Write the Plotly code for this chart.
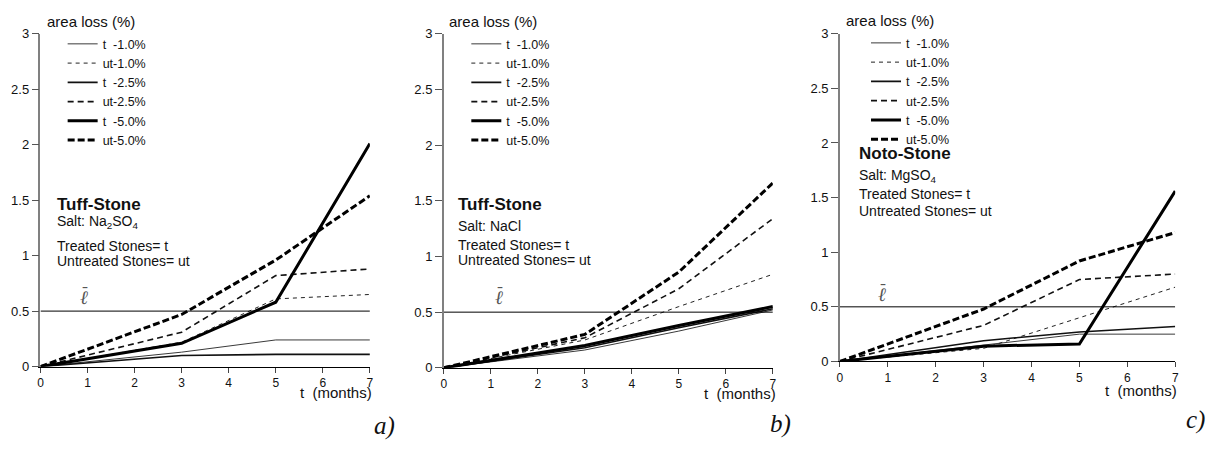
import plotly.graph_objects as go

# ---------------- data ----------------
months = [0, 3, 5, 7]
series_names = ["t\u00a0\u00a0-1.0%", "ut-1.0%", "t\u00a0\u00a0-2.5%", "ut-2.5%", "t\u00a0\u00a0-5.0%", "ut-5.0%"]

# panel a) Tuff-Stone, Na2SO4
a_t10 = [0, 0.13, 0.24, 0.24]
a_ut10 = [0, 0.22, 0.61, 0.65]
a_t25 = [0, 0.10, 0.11, 0.11]
a_ut25 = [0, 0.31, 0.82, 0.88]
a_t50 = [0, 0.21, 0.58, 2.01]
a_ut50 = [0, 0.47, 0.96, 1.54]

# panel b) Tuff-Stone, NaCl
b_t10 = [0, 0.16, 0.33, 0.52]
b_ut10 = [0, 0.25, 0.55, 0.84]
b_t25 = [0, 0.18, 0.36, 0.53]
b_ut25 = [0, 0.27, 0.71, 1.34]
b_t50 = [0, 0.20, 0.38, 0.55]
b_ut50 = [0, 0.30, 0.86, 1.66]

# panel c) Noto-Stone, MgSO4
c_t10 = [0, 0.15, 0.25, 0.25]
c_ut10 = [0, 0.12, 0.40, 0.68]
c_t25 = [0, 0.19, 0.27, 0.32]
c_ut25 = [0, 0.33, 0.75, 0.80]
c_t50 = [0, 0.14, 0.16, 1.56]
c_ut50 = [0, 0.48, 0.92, 1.18]

limit_x = [0, 7]
limit_y = [0.5, 0.5]

y_ticks = [0, 0.5, 1, 1.5, 2, 2.5, 3]
y_tick_labels = ["0", "0.5", "1", "1.5", "2", "2.5", "3"]
x_ticks = [0, 1, 2, 3, 4, 5, 6, 7]

panels = [
    dict(data=[a_t10, a_ut10, a_t25, a_ut25, a_t50, a_ut50], stone="Tuff-Stone",
         salt="Salt: Na<sub>2</sub>SO<sub>4</sub>", label="a)"),
    dict(data=[b_t10, b_ut10, b_t25, b_ut25, b_t50, b_ut50], stone="Tuff-Stone",
         salt="Salt: NaCl", label="b)"),
    dict(data=[c_t10, c_ut10, c_t25, c_ut25, c_t50, c_ut50], stone="Noto-Stone",
         salt="Salt: MgSO<sub>4</sub>", label="c)"),
]

# ---------------- styles ----------------
styles = [
    dict(width=1, dash="solid", color="#3a3a3a"),
    dict(width=1, dash="4px,4px", color="#222222"),
    dict(width=1.6, dash="solid", color="#111111"),
    dict(width=1.6, dash="6px,4px", color="#111111"),
    dict(width=3, dash="solid", color="#000000"),
    dict(width=3, dash="7px,3px", color="#000000"),
]

W, H = 1218, 449
x_domains = [[37.7 / W, 369 / W], [443.3 / W, 774.3 / W], [841.7 / W, 1179 / W]]
y_domains = [[77 / H, 421.3 / H], [75.7 / H, 421.3 / H], [82.3 / H, 421.3 / H]]
legend_pos = [(60 / W, 1 - 23 / H), (466 / W, 1 - 23 / H), (868 / W, 1 - 22 / H)]
text_left = [0.30, 0.27, 0.35]
text_rows = [[1.46, 1.30, 1.09, 0.95], [1.465, 1.27, 1.10, 0.97], [1.90, 1.70, 1.53, 1.38]]
ell_pos = [(0.92, 0.63), (1.18, 0.64), (0.88, 0.62)]
label_pos = [(384, 433), (782, 431), (1199, 427)]
yaxis_title_pos = [(42, 15), (447, 15), (846, 14)]
xaxis_title_pos = [(373, 399), (779, 400), (1183, 397)]

FONT = "Liberation Sans, Arial, sans-serif"

fig = go.Figure()
annotations = []
layout = {}

for i, p in enumerate(panels):
    sfx = "" if i == 0 else str(i + 1)
    xa, ya = "x" + sfx, "y" + sfx
    lg = "legend" + sfx
    for j, (name, vals) in enumerate(zip(series_names, p["data"])):
        fig.add_trace(go.Scatter(
            x=months, y=vals, mode="lines", name=name,
            line=dict(**styles[j]), xaxis=xa, yaxis=ya, legend=lg,
            cliponaxis=False))
    fig.add_trace(go.Scatter(
        x=limit_x, y=limit_y, mode="lines", showlegend=False,
        line=dict(width=1, color="#000000"), xaxis=xa, yaxis=ya))

    layout["xaxis" + sfx] = dict(
        domain=x_domains[i], range=[0, 7], anchor=ya, tickmode="array",
        tickvals=x_ticks, ticks="outside", ticklen=5, tickcolor="#444",
        showline=True, linecolor="#000", linewidth=1, showgrid=False,
        zeroline=False, tickfont=dict(size=12, color="#111", family=FONT),
        fixedrange=True)
    layout["yaxis" + sfx] = dict(
        domain=y_domains[i], range=[0, 3], anchor=xa, tickmode="array",
        tickvals=y_ticks, ticktext=y_tick_labels, ticks="outside", ticklen=7,
        tickcolor="#555", showline=True, linecolor="#808080", linewidth=1.5,
        showgrid=False, zeroline=False,
        tickfont=dict(size=13, color="#111", family=FONT), fixedrange=True)
    layout[lg] = dict(
        x=legend_pos[i][0], y=legend_pos[i][1], xanchor="left", yanchor="top",
        bgcolor="rgba(0,0,0,0)", font=dict(size=12.5, color="#111", family=FONT),
        traceorder="normal", itemwidth=30, borderwidth=0)

    xr, yr = xa, ya
    annotations.append(dict(text="area loss (%)", xref="paper", yref="paper",
                            x=yaxis_title_pos[i][0] / W, y=1 - yaxis_title_pos[i][1] / H,
                            xanchor="left", yanchor="middle", showarrow=False,
                            font=dict(size=15, color="#111", family=FONT)))
    annotations.append(dict(text="t\u00a0\u00a0(months)", xref="paper", yref="paper",
                            x=xaxis_title_pos[i][0] / W, y=1 - xaxis_title_pos[i][1] / H,
                            xanchor="right", yanchor="middle", showarrow=False,
                            font=dict(size=15, color="#111", family=FONT)))
    rows = text_rows[i]
    annotations.append(dict(text="<b>" + p["stone"] + "</b>", xref=xr, yref=yr,
                            x=text_left[i], y=rows[0], xanchor="left", yanchor="middle",
                            showarrow=False, font=dict(size=17, color="#111", family=FONT)))
    annotations.append(dict(text=p["salt"], xref=xr, yref=yr,
                            x=text_left[i], y=rows[1], xanchor="left", yanchor="middle",
                            showarrow=False, font=dict(size=14, color="#111", family=FONT)))
    annotations.append(dict(text="Treated Stones= t", xref=xr, yref=yr,
                            x=text_left[i], y=rows[2], xanchor="left", yanchor="middle",
                            showarrow=False, font=dict(size=14, color="#111", family=FONT)))
    annotations.append(dict(text="Untreated Stones= ut", xref=xr, yref=yr,
                            x=text_left[i], y=rows[3], xanchor="left", yanchor="middle",
                            showarrow=False, font=dict(size=14, color="#111", family=FONT)))
    # l-bar symbol for the limit line
    annotations.append(dict(text="<i>\u2113</i>", xref=xr, yref=yr,
                            x=ell_pos[i][0], y=ell_pos[i][1], xanchor="center", yanchor="middle",
                            showarrow=False,
                            font=dict(size=19, color="#555", family="DejaVu Serif, serif")))
    annotations.append(dict(text="\u00af", xref=xr, yref=yr,
                            x=ell_pos[i][0], y=ell_pos[i][1], xanchor="center", yanchor="middle",
                            yshift=3, xshift=1, showarrow=False,
                            font=dict(size=16, color="#555", family="DejaVu Sans, sans-serif")))
    annotations.append(dict(text="<i>" + p["label"] + "</i>", xref="paper", yref="paper",
                            x=label_pos[i][0] / W, y=1 - label_pos[i][1] / H,
                            xanchor="center", yanchor="middle", showarrow=False,
                            font=dict(size=25, color="#111", family="Liberation Serif, Times New Roman, serif")))

fig.update_layout(
    width=W, height=H, margin=dict(l=0, r=0, t=0, b=0),
    paper_bgcolor="white", plot_bgcolor="white",
    annotations=annotations, **layout)

fig.write_html("out.html")
